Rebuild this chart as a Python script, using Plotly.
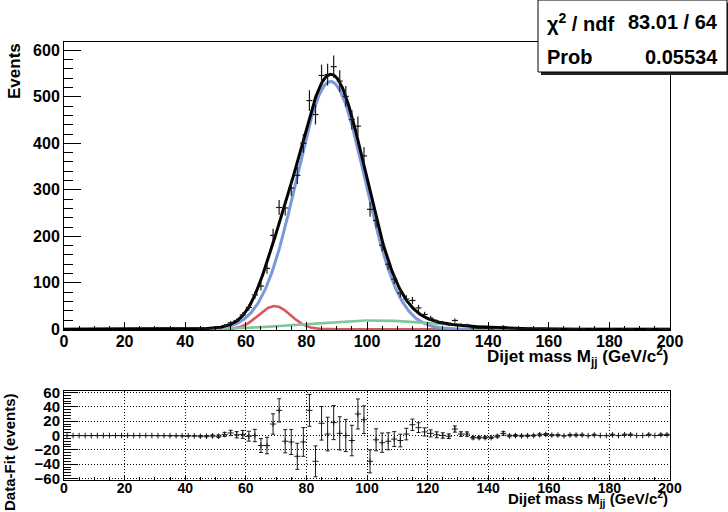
import numpy as np
import plotly.graph_objects as go

# ---------------------------------------------------------------------------
# Dijet mass histogram: 100 bins of 2 GeV/c^2 between 0 and 200
# ---------------------------------------------------------------------------
MASS_MIN, MASS_MAX, BIN_WIDTH = 0.0, 200.0, 2.0

# Events per bin (bin centres 1, 3, 5, ..., 199)
events = [
    0, 0, 0, 0, 0, 0, 0, 0, 0, 0,
    0, 0, 0, 0, 0, 0, 0, 0, 0, 0,
    0, 0, 1, 1, 2, 3, 8, 14, 19, 31,
    47, 74, 93, 131, 202, 262, 261, 304, 331, 400,
    492, 462, 546, 548, 565, 534, 501, 451, 437, 373,
    258, 234, 181, 140, 108, 78, 65, 62, 46, 32,
    24, 17, 14, 10, 19, 10, 9, 3, 2, 2,
    1, 2, 6, 2, 2, 1, 1, 1, 2, 2,
    1, 1, 0, 1, 1, 1, 0, 1, 0, 0,
    1, 0, 1, 1, 0, 0, 1, 0, 1, 1,
]

# Data minus fit, per bin (lower pad)
residuals = [
    -0.1, -0.1, -0.1, -0.1, -0.1, -0.1, -0.1, -0.1, -0.1, -0.1,
    -0.1, -0.1, -0.1, -0.1, -0.1, -0.2, -0.2, -0.3, -0.3, -0.4,
    -0.5, -0.6, -1.0, -1.0, -0.5, -1.0, 1.5, 3.5, 1.0, 1.5,
    -1.0, 0.0, -14.0, -14.0, 16.0, 35.0, -8.0, -9.0, -29.0, -9.0,
    35.0, -36.0, 17.0, 2.0, 18.0, 3.0, 0.0, -7.0, 30.0, 22.0,
    -36.0, -6.0, -10.0, -8.0, -5.0, -7.0, 2.0, 15.0, 11.0, 5.0,
    3.0, 1.0, 0.0, -1.0, 9.0, 2.0, 2.0, -3.0, -3.0, -3.0,
    -3.0, -1.0, 3.0, -0.5, 0.0, -0.5, -0.3, 0.0, 1.0, 1.5,
    0.5, 0.5, -0.4, 0.6, 0.6, 0.7, -0.2, 0.8, -0.1, -0.1,
    0.9, -0.1, 1.0, 1.0, 0.0, 0.0, 1.0, 0.0, 1.0, 1.0,
]

# Fit model: three Gaussian components (amplitude, mean, sigma)
signal_peak = (533.0, 88.0, 11.3)
low_shoulder = (50.0, 69.5, 5.3)
broad_background = (19.0, 102.0, 22.0)

fit_chi2_ndf = "83.01 / 64"
fit_prob = "0.05534"

# ---------------------------------------------------------------------------
centres = np.arange(MASS_MIN + BIN_WIDTH / 2, MASS_MAX, BIN_WIDTH)
counts = np.array(events, dtype=float)
errors = np.sqrt(counts)
resid = np.array(residuals)


def gauss(x, par):
    amp, mean, sigma = par
    return amp * np.exp(-0.5 * ((x - mean) / sigma) ** 2)


xs = np.linspace(MASS_MIN, MASS_MAX, 801)
comp_sig = gauss(xs, signal_peak)
comp_low = gauss(xs, low_shoulder)
comp_bkg = gauss(xs, broad_background)
total = comp_sig + comp_low + comp_bkg

FONT = "Liberation Sans"
W, H = 728, 512
FRAME_L, FRAME_R = 64, 670
TOP_T, TOP_B = 42, 330
LOW_T, LOW_B = 391, 480


def px(x):
    return x / W


def py(y):
    return (H - y) / H


BLUE = "rgb(122,152,218)"
RED = "rgb(214,88,88)"
GREEN = "rgb(128,198,156)"
INK = "#1a1a1a"

fig = go.Figure()

# --- upper pad: data and fit components --------------------------------
fig.add_trace(go.Scatter(x=xs, y=comp_low, mode="lines",
                         line=dict(color=RED, width=2.6), hoverinfo="skip",
                         xaxis="x", yaxis="y"))
fig.add_trace(go.Scatter(x=xs, y=comp_sig, mode="lines",
                         line=dict(color=BLUE, width=3), hoverinfo="skip",
                         xaxis="x", yaxis="y"))
fig.add_trace(go.Scatter(x=xs, y=comp_bkg, mode="lines",
                         line=dict(color=GREEN, width=2.6), hoverinfo="skip",
                         xaxis="x", yaxis="y"))
fig.add_trace(go.Scatter(x=xs, y=total, mode="lines",
                         line=dict(color="black", width=3), hoverinfo="skip",
                         xaxis="x", yaxis="y"))

has_data = counts > 0
fig.add_trace(go.Scatter(
    x=centres[has_data], y=counts[has_data], mode="markers",
    marker=dict(size=1, color=INK),
    error_y=dict(type="data", array=errors[has_data], width=0,
                 thickness=1.2, color=INK),
    error_x=dict(type="constant", value=BIN_WIDTH / 2, width=0,
                 thickness=1.2, color=INK),
    xaxis="x", yaxis="y"))

# --- lower pad: residuals ------------------------------------------------
fig.add_trace(go.Scatter(
    x=centres, y=resid, mode="markers",
    marker=dict(symbol="line-ns", size=4,
                line=dict(width=1, color=INK), color=INK),
    error_y=dict(type="data", array=errors, width=2,
                 thickness=1, color=INK),
    error_x=dict(type="constant", value=BIN_WIDTH / 2, width=0,
                 thickness=1, color=INK),
    xaxis="x2", yaxis="y2"))

tick_font_top = dict(family=FONT, size=16, color="black", weight="bold")
tick_font_low = dict(family=FONT, size=14, color="black", weight="bold")

axis_common = dict(showline=True, linecolor="black", linewidth=1,
                   mirror=True, zeroline=False, ticks="inside",
                   tickcolor="black", tickwidth=1, automargin=False)

fig.update_layout(
    width=W, height=H,
    margin=dict(l=0, r=0, t=0, b=0, autoexpand=False),
    paper_bgcolor="white", plot_bgcolor="white",
    showlegend=False,
    xaxis=dict(domain=[px(FRAME_L), px(FRAME_R)], range=[MASS_MIN, MASS_MAX],
               anchor="y", dtick=20, ticklen=8, showgrid=False,
               tickfont=tick_font_top, ticklabelstandoff=-3,
               minor=dict(ticks="inside", dtick=5, ticklen=4,
                          tickcolor="black", showgrid=False),
               **axis_common),
    yaxis=dict(domain=[py(TOP_B), py(TOP_T)], range=[-1.5, 618],
               anchor="x", dtick=100, ticklen=17, showgrid=False,
               tickfont=tick_font_top,
               minor=dict(ticks="inside", dtick=20, ticklen=9,
                          tickcolor="black", showgrid=False),
               **axis_common),
    xaxis2=dict(domain=[px(FRAME_L), px(FRAME_R)], range=[MASS_MIN, MASS_MAX],
                anchor="y2", dtick=20, ticklen=5,
                showgrid=True, gridcolor="black", gridwidth=1,
                griddash="1px,2px", tickfont=tick_font_low,
                ticklabelstandoff=-5,
                minor=dict(ticks="inside", dtick=5, ticklen=3,
                           tickcolor="black", showgrid=False),
                **axis_common),
    yaxis2=dict(domain=[py(LOW_B), py(LOW_T)], range=[-62, 62],
                anchor="x2", tickvals=[-60, -40, -20, 0, 20, 40, 60],
                ticklen=14, showgrid=True, gridcolor="black", gridwidth=1,
                griddash="1px,2px", tickfont=dict(tick_font_low, size=15),
                minor=dict(ticks="inside", dtick=4, ticklen=7,
                           tickcolor="black", showgrid=False),
                **axis_common),
)

title_font = dict(family=FONT, size=17, color="black", weight="bold")
title_font_low = dict(family=FONT, size=15, color="black", weight="bold")
stat_font = dict(family=FONT, size=20, color="black", weight="bold")

annotations = [
    dict(text="Events", x=px(14), y=py(TOP_T - 1), xanchor="center",
         yanchor="top", textangle=-90, font=title_font),
    dict(text="Dijet mass M<sub>jj</sub> (GeV/c<sup>2</sup>)",
         x=px(FRAME_R), y=py(342), xanchor="right", yanchor="top",
         font=title_font),
    dict(text="Data-Fit (events)", x=px(9), y=py(LOW_T), xanchor="center",
         yanchor="top", textangle=-90, font=title_font_low),
    dict(text="Dijet mass M<sub>jj</sub> (GeV/c<sup>2</sup>)",
         x=px(FRAME_R), y=py(486), xanchor="right", yanchor="top",
         font=title_font_low),
    dict(text="χ<sup>2</sup> / ndf", x=px(545), y=py(22), xanchor="left",
         yanchor="middle", font=stat_font),
    dict(text=fit_chi2_ndf, x=px(720), y=py(22), xanchor="right",
         yanchor="middle", font=stat_font),
    dict(text="Prob", x=px(545), y=py(57), xanchor="left",
         yanchor="middle", font=stat_font),
    dict(text=fit_prob, x=px(720), y=py(57), xanchor="right",
         yanchor="middle", font=stat_font),
]
for a in annotations:
    a.update(xref="paper", yref="paper", showarrow=False)
fig.update_layout(annotations=annotations)

# Statistics box with its drop shadow
fig.add_shape(type="rect", xref="paper", yref="paper",
              x0=px(541), x1=px(731), y0=py(75), y1=py(3),
              fillcolor="#222", line=dict(width=0), layer="above")
fig.add_shape(type="rect", xref="paper", yref="paper",
              x0=px(538), x1=px(727), y0=py(72), y1=py(0),
              fillcolor="white", line=dict(color="black", width=1),
              layer="above")

fig.write_html("out.html")
